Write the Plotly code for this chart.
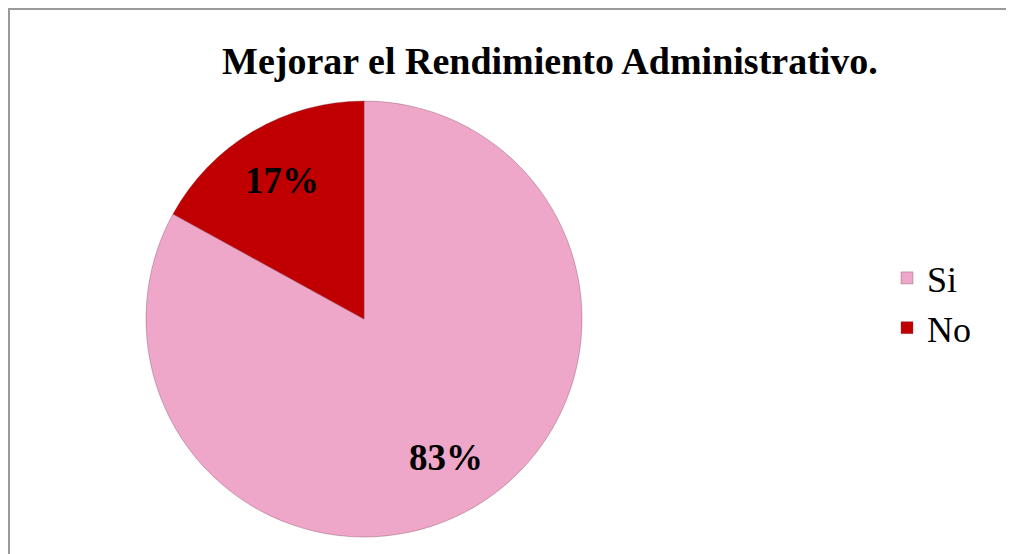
import math
import plotly.graph_objects as go

labels = ["Si", "No"]
values = [83, 17]
colors = ["#EEA6C9", "#C00000"]
title_text = "Mejorar el Rendimiento Administrativo."

# The page places the figure 8px in from the top-left corner of the window
W, H = 1006, 546
FONT = "Liberation Serif, Times New Roman, serif"

CX, CY, R = 356, 311, 218  # pie centre and radius in figure pixels

fig = go.Figure()
fig.add_trace(go.Pie(
    labels=labels,
    values=values,
    sort=False,
    direction="clockwise",
    rotation=0,
    marker=dict(colors=colors, line=dict(color="rgba(120,60,80,0.35)", width=1)),
    textinfo="none",
    domain=dict(x=[(CX - R) / W, (CX + R) / W], y=[1 - (CY + R) / H, 1 - (CY - R) / H]),
    hoverinfo="label+percent",
))

# percentage labels placed at each slice's mid-angle
total = sum(values)
annotations = []
cum = 0
for lab, v in zip(labels, values):
    mid = (cum + v / 2) / total * 2 * math.pi
    cum += v
    px = CX + 0.74 * R * math.sin(mid)
    py = CY - 0.74 * R * math.cos(mid)
    annotations.append(dict(
        x=px / W, y=1 - py / H, xref="paper", yref="paper",
        text=f"{round(v / total * 100)}%", showarrow=False,
        xanchor="center", yanchor="middle",
        font=dict(family=FONT, size=37, color="black", weight="bold"),
    ))

fig.update_layout(
    width=W, height=H,
    margin=dict(l=0, r=0, t=0, b=0),
    paper_bgcolor="white",
    plot_bgcolor="white",
    title=dict(text=title_text, x=542 / W, xanchor="center", y=1 - 53 / H, yanchor="middle",
               font=dict(family=FONT, size=38, color="black", weight="bold")),
    legend=dict(x=879 / W, y=1 - 295 / H, xanchor="left", yanchor="middle",
                font=dict(family=FONT, size=36, color="black"),
                bgcolor="rgba(0,0,0,0)", itemclick=False),
    annotations=annotations,
    shapes=[
        dict(type="line", xref="paper", yref="paper", x0=0, x1=1.0, y0=1 - 1 / H, y1=1 - 1 / H,
             line=dict(color="#9a9a9a", width=2)),
        dict(type="line", xref="paper", yref="paper", x0=1 / W, x1=1 / W, y0=1, y1=0,
             line=dict(color="#9a9a9a", width=2)),
    ],
)

fig.write_html("out.html")
